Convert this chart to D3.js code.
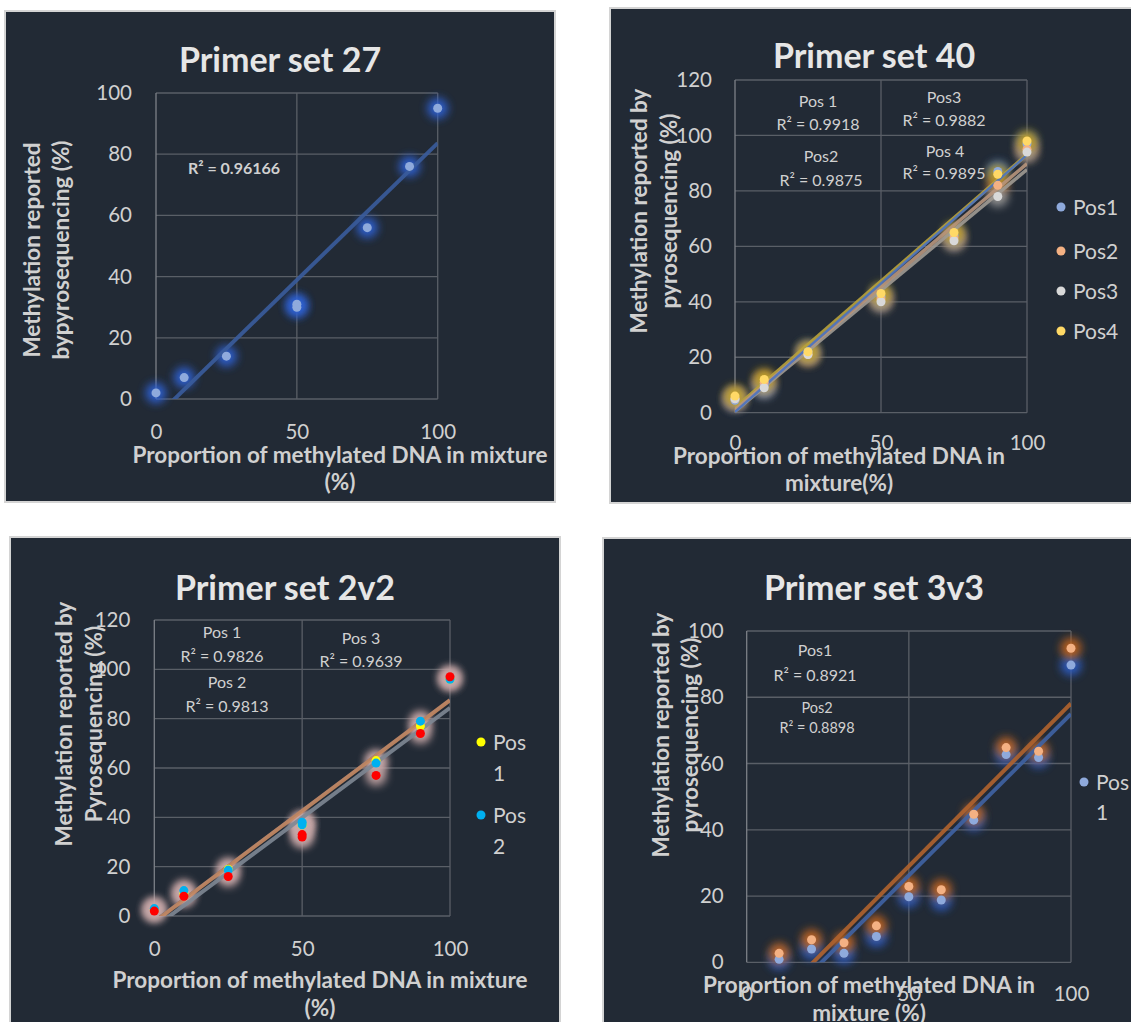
<!DOCTYPE html>
<html>
<head>
<meta charset="utf-8">
<script src="https://cdn.jsdelivr.net/npm/d3@7"></script>
<style>
  body { margin: 0; background: #ffffff; }
  svg text { font-family: Lato, "Open Sans", sans-serif; }
</style>
</head>
<body>
<svg id="chart" width="1131" height="1022"></svg>
<script>
// ---- data ----
// Primer set 27 (one position)
var ps27X = [0, 10, 25, 50, 50, 75, 90, 100];
var ps27Y = [2, 7, 14, 31, 30, 56, 76, 95];

// Primer set 40 (four positions)
var ps40X = [0, 10, 25, 50, 75, 90, 100];
var ps40Pos1 = [4.5, 10, 22, 42, 64, 87, 97];
var ps40Pos2 = [5, 11, 21, 41, 63, 82, 95];
var ps40Pos3 = [5, 9, 21, 40, 62, 78, 94];
var ps40Pos4 = [6, 12, 22, 43, 65, 86, 98];

// Primer set 2v2 (three positions)
var ps2v2X = [0, 10, 25, 50, 50, 75, 90, 100];
var ps2v2Pos1 = [2.5, 9, 19, 37, 37, 63, 77, 96];
var ps2v2Pos2 = [3, 10.3, 18.6, 38, 37, 62, 79, 96];
var ps2v2Pos3 = [2, 8, 16, 33, 32, 57, 74, 97];

// Primer set 3v3 (two positions)
var ps3v3X = [10, 20, 30, 40, 50, 60, 70, 80, 90, 100];
var ps3v3Pos1 = [0.9, 4, 2.7, 7.8, 19.8, 18.8, 42.9, 62.7, 61.8, 89.7];
var ps3v3Pos2 = [2.7, 6.8, 5.9, 11, 22.9, 21.9, 44.7, 64.8, 63.7, 94.8];

// ticks
var xTicks = [0, 50, 100];
var yTicks100 = [0, 20, 40, 60, 80, 100];
var yTicks120 = [0, 20, 40, 60, 80, 100, 120];

var titles = ["Primer set 27", "Primer set 40", "Primer set 2v2", "Primer set 3v3"];

// ---- layout / style for each panel ----
var panels = [
  { box: [5, 11, 550, 491], plot: {l: 156, r: 437.7, t: 93, b: 399}, ymax: 100, yTicks: yTicks100, xPad: 25, yPad: 24,
    title: titles[0], titleX: 280, titleY: 72,
    xTitle: ["Proportion of methylated DNA in mixture", "(%)"], xTitleX: 340, xTitleY: [463, 490],
    yTitle: ["Methylation reported", "bypyrosequencing (%)"], yTitleX: [40, 69], yTitleY: 250,
    series: [{name: "Pos1", x: ps27X, y: ps27Y, fill: "#8faadc", glow: "#2f62d6", trend: "#3a5c9c", tw: 4}],
    notes: [{t: "R² = 0.96166", x: 234, y: 174, size: 16, bold: true}],
    legend: null },
  { box: [610, 8, 523, 495], plot: {l: 735, r: 1027, t: 80, b: 412.7}, ymax: 120, yTicks: yTicks120, xPad: 23, yPad: 23,
    title: titles[1], titleX: 874, titleY: 68,
    xTitle: ["Proportion of methylated DNA in", "mixture(%)"], xTitleX: 839, xTitleY: [464, 491],
    yTitle: ["Methylation reported by", "pyrosequencing (%)"], yTitleX: [647, 677], yTitleY: 211,
    series: [
      {name: "Pos1", x: ps40X, y: ps40Pos1, fill: "#8faadc", glow: "#3f6fd0", trend: "#4a72c0", tw: 2.5},
      {name: "Pos2", x: ps40X, y: ps40Pos2, fill: "#f4b183", glow: "#c5702a", trend: "#b7957c", tw: 3.5},
      {name: "Pos3", x: ps40X, y: ps40Pos3, fill: "#d9d9d9", glow: "#9a9a9a", trend: "#a09a92", tw: 3.5},
      {name: "Pos4", x: ps40X, y: ps40Pos4, fill: "#ffd966", glow: "#bfa020", trend: "#b8a23c", tw: 3.5}],
    notes: [
      {t: "Pos 1", x: 818, y: 107, size: 16}, {t: "R² = 0.9918", x: 818, y: 130, size: 16},
      {t: "Pos3", x: 944, y: 103, size: 16}, {t: "R² = 0.9882", x: 944, y: 126, size: 16},
      {t: "Pos2", x: 821, y: 162, size: 16}, {t: "R² = 0.9875", x: 821, y: 186, size: 16},
      {t: "Pos 4", x: 945, y: 157, size: 16}, {t: "R² = 0.9895", x: 944, y: 179, size: 16}],
    legend: {x: 1061, tx: 1073, ys: [207, 251, 291, 331], size: 21, split: false} },
  { box: [10, 537, 550, 487], plot: {l: 154.3, r: 450, t: 620, b: 916}, ymax: 120, yTicks: yTicks120, xPad: 25, yPad: 24,
    title: titles[2], titleX: 285, titleY: 600,
    xTitle: ["Proportion of methylated DNA in mixture", "(%)"], xTitleX: 320, xTitleY: [988, 1016],
    yTitle: ["Methylation reported by", "Pyrosequencing (%)"], yTitleX: [72, 102], yTitleY: 724,
    series: [
      {name: "Pos 1", x: ps2v2X, y: ps2v2Pos1, fill: "#ffff00", glow: "#c8a8a8", trend: "#c88a62", tw: 4},
      {name: "Pos 2", x: ps2v2X, y: ps2v2Pos2, fill: "#00b0f0", glow: "#c8a8a8", trend: "#2f4a7a", tw: 2},
      {name: "Pos 3", x: ps2v2X, y: ps2v2Pos3, fill: "#ff0000", glow: "#c8a8a8", trend: "#7e8794", tw: 4}],
    notes: [
      {t: "Pos 1", x: 222, y: 638, size: 16}, {t: "R² = 0.9826", x: 222, y: 662, size: 16},
      {t: "Pos 2", x: 227, y: 688, size: 16}, {t: "R² = 0.9813", x: 227, y: 712, size: 16},
      {t: "Pos 3", x: 361, y: 644, size: 16}, {t: "R² = 0.9639", x: 361, y: 667, size: 16}],
    legend: {x: 481, tx: 493, ys: [742, 815], size: 21, split: true, gap: 31, count: 2} },
  { box: [603, 538, 530, 486], plot: {l: 746.7, r: 1071, t: 631, b: 962.3}, ymax: 100, yTicks: yTicks100, xPad: 24, yPad: 23,
    title: titles[3], titleX: 874, titleY: 600,
    xTitle: ["Proportion of methylated DNA in", "mixture (%)"], xTitleX: 869, xTitleY: [993, 1021],
    yTitle: ["Methylation reported by", "pyrosequencing (%)"], yTitleX: [669, 698], yTitleY: 735,
    series: [
      {name: "Pos 1", x: ps3v3X, y: ps3v3Pos1, fill: "#8faadc", glow: "#2f5fc8", trend: "#3f63a4", tw: 4},
      {name: "Pos 2", x: ps3v3X, y: ps3v3Pos2, fill: "#f4b183", glow: "#c5651e", trend: "#b0632e", tw: 4}],
    notes: [
      {t: "Pos1", x: 815, y: 656, size: 16}, {t: "R² = 0.8921", x: 815, y: 681, size: 16},
      {t: "Pos2", x: 817, y: 713, size: 14.5}, {t: "R² = 0.8898", x: 817, y: 733, size: 14.5}],
    legend: {x: 1084, tx: 1096, ys: [782], size: 21, split: true, gap: 30, count: 1} }
];

var textColor = "#d0d0d0";
var gridColor = "#5a5f67";

var svg = d3.select("#chart");
var defs = svg.append("defs");
defs.append("filter").attr("id", "glow")
  .attr("x", "-100%").attr("y", "-100%").attr("width", "300%").attr("height", "300%")
  .append("feGaussianBlur").attr("stdDeviation", 4.5);

// least squares line, like Excel's linear trendline
function fit(xs, ys) {
  var mx = d3.mean(xs), my = d3.mean(ys), sxy = 0, sxx = 0;
  xs.forEach(function(v, i) { sxy += (v - mx) * (ys[i] - my); sxx += (v - mx) * (v - mx); });
  var m = sxy / sxx;
  return {m: m, b: my - m * mx};
}

panels.forEach(function(p, i) {
  var g = svg.append("g");

  g.append("rect")
    .attr("x", p.box[0]).attr("y", p.box[1])
    .attr("width", p.box[2]).attr("height", p.box[3])
    .attr("fill", "#222a35").attr("stroke", "#d4d4d4").attr("stroke-width", 2);

  var x = d3.scaleLinear().domain([0, 100]).range([p.plot.l, p.plot.r]);
  var y = d3.scaleLinear().domain([0, p.ymax]).range([p.plot.b, p.plot.t]);

  defs.append("clipPath").attr("id", "clip" + i)
    .append("rect").attr("x", p.plot.l).attr("y", p.plot.t)
    .attr("width", p.plot.r - p.plot.l).attr("height", p.plot.b - p.plot.t);

  // gridlines
  g.selectAll(".hgrid").data(p.yTicks).enter().append("line")
    .attr("x1", p.plot.l).attr("x2", p.plot.r)
    .attr("y1", function(d) { return y(d); }).attr("y2", function(d) { return y(d); })
    .attr("stroke", gridColor).attr("stroke-width", 1.3);
  g.selectAll(".vgrid").data(xTicks).enter().append("line")
    .attr("y1", p.plot.t).attr("y2", p.plot.b)
    .attr("x1", function(d) { return x(d); }).attr("x2", function(d) { return x(d); })
    .attr("stroke", function(d) { return d === 0 ? "#7d8188" : gridColor; }).attr("stroke-width", 1.3);

  // tick labels
  var ya = g.append("g").attr("transform", "translate(" + p.plot.l + ",0)")
    .call(d3.axisLeft(y).tickValues(p.yTicks).tickSize(0).tickPadding(p.yPad));
  var xa = g.append("g").attr("transform", "translate(0," + p.plot.b + ")")
    .call(d3.axisBottom(x).tickValues(xTicks).tickSize(0).tickPadding(p.xPad));
  [ya, xa].forEach(function(a) {
    a.select(".domain").remove();
    a.selectAll("text").attr("fill", textColor).style("font-size", "20.5px");
  });

  // title
  g.append("text").attr("x", p.titleX).attr("y", p.titleY)
    .attr("text-anchor", "middle").attr("fill", "#e6e6e6")
    .style("font-size", "34px").style("font-weight", "bold")
    .text(p.title);

  // axis titles
  p.xTitle.forEach(function(t, k) {
    g.append("text").attr("x", p.xTitleX).attr("y", p.xTitleY[k])
      .attr("text-anchor", "middle").attr("fill", textColor)
      .style("font-size", "22.5px").style("font-weight", "bold").text(t);
  });
  p.yTitle.forEach(function(t, k) {
    g.append("text")
      .attr("transform", "translate(" + p.yTitleX[k] + "," + p.yTitleY + ") rotate(-90)")
      .attr("text-anchor", "middle").attr("fill", textColor)
      .style("font-size", "22.5px").style("font-weight", "bold").text(t);
  });

  // glow behind the markers
  p.series.forEach(function(s) {
    g.append("g").selectAll("circle").data(s.x).enter().append("circle")
      .attr("cx", function(d) { return x(d); })
      .attr("cy", function(d, j) { return y(s.y[j]); })
      .attr("r", 10.5).attr("fill", s.glow).attr("opacity", 0.9)
      .attr("filter", "url(#glow)");
  });

  // trendlines
  var tg = g.append("g").attr("clip-path", "url(#clip" + i + ")");
  p.series.slice().reverse().forEach(function(s) {
    var f = fit(s.x, s.y);
    var x0 = d3.min(s.x), x1 = d3.max(s.x);
    tg.append("line")
      .attr("x1", x(x0)).attr("y1", y(f.m * x0 + f.b))
      .attr("x2", x(x1)).attr("y2", y(f.m * x1 + f.b))
      .attr("stroke", s.trend).attr("stroke-width", s.tw).attr("stroke-opacity", 0.9);
  });

  // markers
  p.series.forEach(function(s) {
    g.append("g").selectAll("circle").data(s.x).enter().append("circle")
      .attr("cx", function(d) { return x(d); })
      .attr("cy", function(d, j) { return y(s.y[j]); })
      .attr("r", 4.5).attr("fill", s.fill);
  });

  // R² notes
  p.notes.forEach(function(n) {
    g.append("text").attr("x", n.x).attr("y", n.y)
      .attr("text-anchor", "middle").attr("fill", textColor)
      .style("font-size", n.size + "px").style("font-weight", n.bold ? "bold" : "normal")
      .text(n.t);
  });

  // legend
  if (p.legend) {
    var L = p.legend;
    var shown = p.series.slice(0, L.count || p.series.length);
    shown.forEach(function(s, k) {
      var cy = L.ys[k];
      g.append("circle").attr("cx", L.x).attr("cy", cy).attr("r", 4.5).attr("fill", s.fill);
      if (L.split) {
        var parts = s.name.split(" ");
        g.append("text").attr("x", L.tx).attr("y", cy + 7.5).attr("fill", textColor)
          .style("font-size", L.size + "px").text(parts[0]);
        g.append("text").attr("x", L.tx).attr("y", cy + L.gap + 7.5).attr("fill", textColor)
          .style("font-size", L.size + "px").text(parts[1]);
      } else {
        g.append("text").attr("x", L.tx).attr("y", cy + 7.5).attr("fill", textColor)
          .style("font-size", L.size + "px").text(s.name);
      }
    });
  }
});
</script>
</body>
</html>
